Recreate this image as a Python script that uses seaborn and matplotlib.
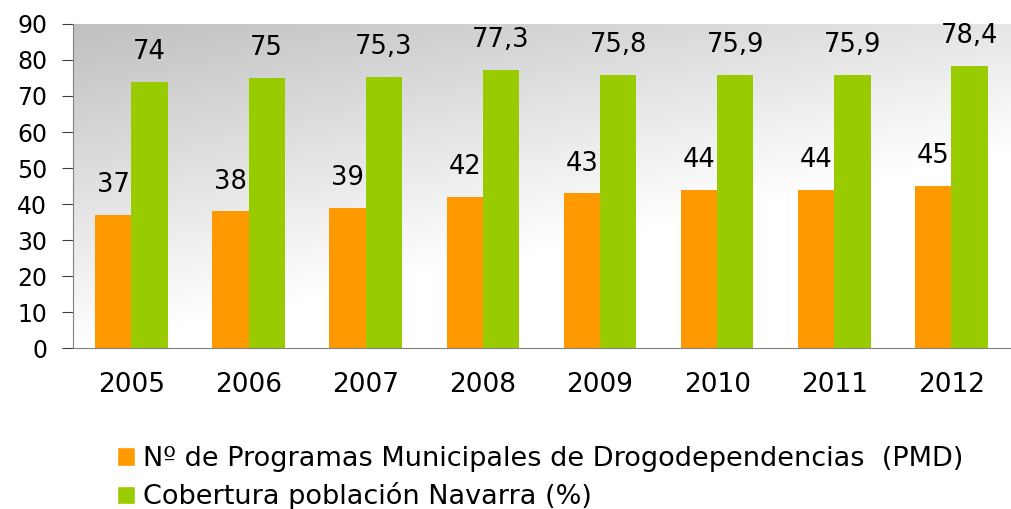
import numpy as np
import pandas as pd
import matplotlib
matplotlib.use("Agg")
import matplotlib.pyplot as plt
import seaborn as sns
from matplotlib.patches import Patch

years = ["2005", "2006", "2007", "2008", "2009", "2010", "2011", "2012"]
pmd = [37, 38, 39, 42, 43, 44, 44, 45]
cobertura = [74, 75, 75.3, 77.3, 75.8, 75.9, 75.9, 78.4]
series = ["Nº de Programas Municipales de Drogodependencias  (PMD)",
          "Cobertura población Navarra (%)"]
colors = ["#FF9900", "#99CC00"]

df = pd.DataFrame({
    "year": years * 2,
    "value": pmd + cobertura,
    "serie": [series[0]] * len(years) + [series[1]] * len(years),
})

sns.set_style("white")
plt.rcParams["font.family"] = ["DejaVu Sans"]
plt.rcParams["text.color"] = "black"
plt.rcParams["xtick.color"] = "black"
plt.rcParams["ytick.color"] = "black"

fig = plt.figure(figsize=(10.12, 5.09), dpi=100)
ax = fig.add_axes([0.072, 0.316, 0.926, 0.637])

# gradient background: grey top-left to white bottom-right
gx, gy = np.meshgrid(np.linspace(0, 1, 200), np.linspace(0, 1, 200))
grad = np.clip(0.6 * gx + 1.0 * gy, 0, 1)
bg = matplotlib.colors.LinearSegmentedColormap.from_list("bg", ["#c0c0c0", "#ffffff"])
ax.imshow(grad, cmap=bg, extent=[0, 1, 0, 1], origin="upper",
          transform=ax.transAxes, aspect="auto", zorder=0, vmin=0, vmax=1)

sns.barplot(data=df, x="year", y="value", hue="serie", palette=colors,
            width=0.62, gap=0, ax=ax, legend=False, zorder=2, saturation=1,
            linewidth=0)

for i, cont in enumerate(ax.containers):
    labels = [f"{v:g}".replace(".", ",") for v in (pmd if i == 0 else cobertura)]
    ax.bar_label(cont, labels=labels, padding=12, fontsize=18.5)

ax.set_xlim(-0.5, len(years) - 0.5)
ax.set_ylim(0, 90)
ax.set_yticks(range(0, 91, 10))
ax.set_xticks(np.arange(-0.5, len(years), 1), minor=True)
ax.tick_params(axis="x", which="major", length=0, labelsize=19, pad=17)
ax.tick_params(axis="x", which="minor", length=6, color="#606060", direction="out")
ax.tick_params(axis="y", length=8, color="#404040", labelsize=17, left=True, pad=10.5)
ax.set_xlabel("")
ax.set_ylabel("")
for s in ["top", "right"]:
    ax.spines[s].set_visible(False)
ax.spines["left"].set_color("#808080")
ax.spines["bottom"].set_color("#808080")

handles = [Patch(facecolor=c, label=s) for c, s in zip(colors, series)]
fig.legend(handles=handles, loc="upper left", bbox_to_anchor=(0.105, 0.145),
           frameon=False, fontsize=19.5, handlelength=0.65, handleheight=0.65,
           handletextpad=0.3, labelspacing=0.38, borderaxespad=0)

fig.savefig("out.png", dpi=100)
